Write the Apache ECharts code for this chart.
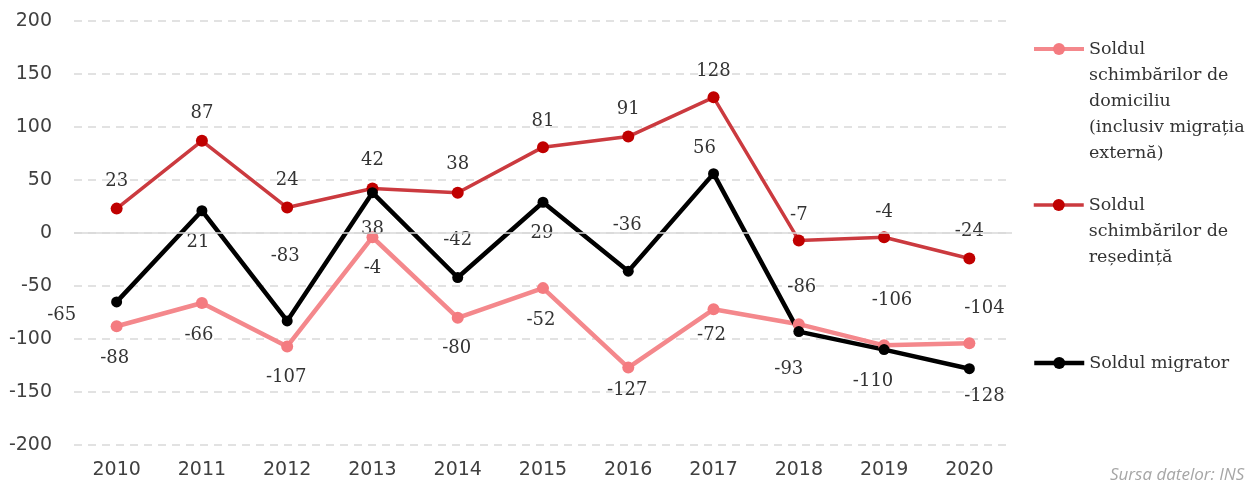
<!DOCTYPE html>
<html>
<head>
<meta charset="utf-8">
<script src="https://cdn.jsdelivr.net/npm/echarts@6/dist/echarts.min.js"></script>
<style>
  html, body { margin: 0; padding: 0; background: #fff; }
  #main { width: 1252px; height: 481px; }
</style>
</head>
<body>
<div id="main"></div>
<script>
var years = ['2010', '2011', '2012', '2013', '2014', '2015', '2016', '2017', '2018', '2019', '2020'];

var domiciliu = [-88, -66, -107, -4, -80, -52, -127, -72, -86, -106, -104];
var resedinta = [23, 87, 24, 42, 38, 81, 91, 128, -7, -4, -24];
var migrator = [-65, 21, -83, 38, -42, 29, -36, 56, -93, -110, -128];

var nameDomiciliu = 'Soldul\nschimbărilor de\ndomiciliu\n(inclusiv migrația\nexternă)';
var nameResedinta = 'Soldul\nschimbărilor de\nreședință';
var nameMigrator = 'Soldul migrator';

// unde stau etichetele fata de punct (mutate de mana in graficul original)
var shiftDomiciliu = [[-2, 32], [-3, 32], [-1, 31], [0, 31], [-1, 31], [-2, 32], [-1, 23], [-2, 26], [3, -37], [8, -45], [15, -35]];
var shiftResedinta = [[0, -27], [0, -27], [0, -27], [0, -28], [0, -28], [0, -26], [0, -27], [0, -26], [0, -25], [0, -25], [0, -27]];
var shiftMigrator = [[-55, 13], [-4, 32], [-2, -65], [0, 37], [0, -37], [-1, 31], [-1, -46], [-9, -25], [-10, 38], [-11, 32], [15, 28]];

var labelFont = 'DejaVu Serif';
var textColor = '#333333';

function withLabels(values, shifts) {
    var out = [];
    for (var i = 0; i < values.length; i++) {
        out.push({ value: values[i], label: { offset: shifts[i] } });
    }
    return out;
}

// legenda centreaza textul pe iconita, asa ca pun randuri goale deasupra
// ca primul rand sa ajunga in dreptul iconitei
function legendFor(name, iconY, lineW) {
    var lh = 26;
    var lines = name.split('\n').length;
    var pad = '';
    for (var k = 1; k < lines; k++) pad += ' \n';
    return {
        data: [name],
        left: 1032,
        top: iconY - (2 * lines - 1) * lh / 2,
        padding: 0,
        itemWidth: 50,
        itemHeight: 15,
        itemGap: 5,
        lineStyle: { width: lineW },
        formatter: function (n) { return pad + n; },
        textStyle: {
            fontFamily: labelFont,
            fontSize: 17.5,
            color: textColor,
            lineHeight: lh
        }
    };
}

var myChart = echarts.init(document.getElementById('main'));

var baseLabel = {
    show: true,
    position: 'inside',
    color: textColor,
    fontFamily: labelFont,
    fontSize: 18
};

myChart.setOption({
    animation: false,
    backgroundColor: '#fff',
    title: {
        text: 'Sursa datelor: INS',
        left: 1110,
        top: 467,
        padding: 0,
        textStyle: {
            fontFamily: 'Open Sans',
            fontStyle: 'italic',
            fontWeight: 'normal',
            fontSize: 17,
            color: '#a6a6a6'
        }
    },
    legend: [
        legendFor(nameDomiciliu, 49, 4),
        legendFor(nameResedinta, 205, 3.5),
        legendFor(nameMigrator, 363, 4.5)
    ],
    grid: {
        left: 74,
        right: 240,
        top: 21,
        bottom: 36
    },
    xAxis: {
        type: 'category',
        data: years,
        boundaryGap: true,
        axisLine: { show: false, onZero: false },
        axisTick: { show: false },
        axisLabel: {
            margin: 16,
            fontFamily: 'DejaVu Sans',
            fontSize: 19,
            color: '#404040'
        }
    },
    yAxis: {
        type: 'value',
        min: -200,
        max: 200,
        interval: 50,
        axisLine: { show: false },
        axisTick: { show: false },
        axisLabel: {
            margin: 22,
            fontFamily: 'DejaVu Sans',
            fontSize: 19,
            color: '#404040'
        },
        splitLine: {
            lineStyle: { color: '#d9d9d9', width: 1.5, type: [8, 6] }
        }
    },
    series: [
        {
            name: nameDomiciliu,
            type: 'line',
            data: withLabels(domiciliu, shiftDomiciliu),
            symbol: 'circle',
            symbolSize: 12,
            lineStyle: { color: '#f4888c', width: 4.5 },
            itemStyle: { color: '#f47b80' },
            label: baseLabel,
            markLine: {
                silent: true,
                symbol: 'none',
                label: { show: false },
                lineStyle: { color: '#d9d9d9', width: 1.5, type: 'solid' },
                data: [{ yAxis: 0 }]
            }
        },
        {
            name: nameResedinta,
            type: 'line',
            data: withLabels(resedinta, shiftResedinta),
            symbol: 'circle',
            symbolSize: 12,
            lineStyle: { color: '#cb3a3f', width: 3.5 },
            itemStyle: { color: '#c00000' },
            label: baseLabel
        },
        {
            name: nameMigrator,
            type: 'line',
            data: withLabels(migrator, shiftMigrator),
            symbol: 'circle',
            symbolSize: 11,
            lineStyle: { color: '#000', width: 4.5 },
            itemStyle: { color: '#000' },
            label: baseLabel
        }
    ]
});
</script>
</body>
</html>
